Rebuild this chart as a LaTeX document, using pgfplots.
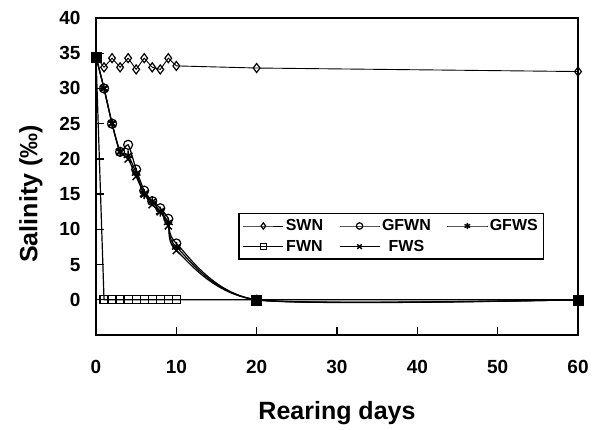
\documentclass[border=0pt]{standalone}
\usepackage{pgfplots}
\pgfplotsset{compat=1.18}
\usepackage{fontspec}
\setmainfont{Liberation Sans}
\begin{document}
\begin{tikzpicture}
\path[use as bounding box] (-96pt,-94pt) rectangle (498pt,335pt);
\begin{axis}[
  at={(0pt,0pt)}, anchor=south west,
  scale only axis, width=482pt, height=317pt,
  xmin=0, xmax=60, ymin=-5, ymax=40,
  xtick={0,10,...,60}, ytick={0,5,...,40},
  axis line style={line width=1.6pt},
  tick style={line width=1.4pt, black},
  tick align=inside, tick pos=left, major tick length=8pt,
  /pgf/number format/assume math mode=true,
  tick label style={font=\fontsize{19}{21}\selectfont\bfseries},
  yticklabel style={xshift=-12pt},
  xticklabel style={yshift=-22pt},
  xlabel={Rearing days}, ylabel={Salinity (‰)},
  every axis x label/.style={at={(axis description cs:0.5,-0.246)},anchor=center,
    font=\fontsize{25}{27}\selectfont\bfseries},
  every axis y label/.style={at={(axis description cs:-0.135,0.445)},anchor=center,rotate=90,
    font=\fontsize{25}{27}\selectfont\bfseries},
  legend columns=3,
  legend style={at={(axis description cs:0.295,0.385)}, anchor=north west,
    draw=black, line width=1.4pt, inner sep=4pt, row sep=4pt,
    font=\fontsize{16}{18}\selectfont\bfseries,
    /tikz/every even column/.append style={column sep=14pt}},
  legend image code/.code={\draw[mark repeat=2,mark phase=2,#1,line width=0.9pt,mark size=3.2pt] plot coordinates {(0pt,0pt) (20pt,0pt) (40pt,0pt)};},
]
% SWN
\addplot[black, line width=0.9pt, mark=diamond, mark size=4.5pt, mark options={fill=white, line width=1.2pt, solid}]
coordinates {(0,34.5)(1,33)(2,34.3)(3,33)(4,34.3)(5,32.7)(6,34.3)(7,33)(8,32.7)(9,34.3)(10,33.2)(20,32.9)(60,32.4)};
\addlegendentry{SWN}
% GFWN
\addplot[black, line width=1.2pt, smooth, tension=0.4, mark=o, mark size=4.5pt, mark options={fill=white, line width=1.2pt}]
coordinates {(0,34.5)(1,30)(2,25)(3,21)(4,22)(5,18.5)(6,15.5)(7,14)(8,13)(9,11.5)(10,8)(20,0)(60,0)};
\addlegendentry{GFWN}
% GFWS
\addplot[black, line width=1.2pt, smooth, tension=0.4, mark=asterisk, mark size=5pt, mark options={line width=1.4pt}]
coordinates {(0,34.5)(1,30)(2,25)(3,21)(4,20.5)(5,18)(6,15)(7,14)(8,12.5)(9,11)(10,7.5)(20,0)(60,0)};
\addlegendentry{GFWS}
% FWN
\addplot[black, line width=1.2pt, mark=square, mark size=4pt, mark options={fill=white, line width=1.2pt}]
coordinates {(0,34.5)(1,0)(2,0)(3,0)(4,0)(5,0)(6,0)(7,0)(8,0)(9,0)(10,0)(20,0)(60,0)};
\addlegendentry{FWN}
% FWS
\addplot[black, line width=1.2pt, smooth, tension=0.4, mark=x, mark size=5pt, mark options={line width=1.4pt}]
coordinates {(0,34.5)(1,30)(2,25)(3,21)(4,20)(5,17.5)(6,15)(7,13.5)(8,12.5)(9,10.5)(10,7)(20,0)(60,0)};
\addlegendentry{FWS}
% overlapping markers where all series meet appear solid
\addplot[only marks, forget plot, mark=square*, mark size=5pt, black]
coordinates {(0,34.5)(20,0)(60,0)};
\end{axis}
\end{tikzpicture}
\end{document}
